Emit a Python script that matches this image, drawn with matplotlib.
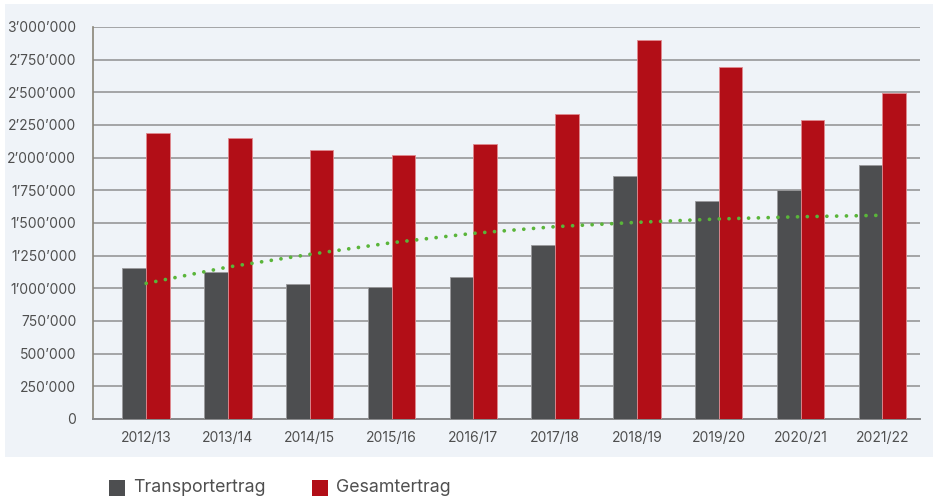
import matplotlib
matplotlib.use("Agg")
import matplotlib.pyplot as plt
import numpy as np
from matplotlib.patches import Rectangle
from matplotlib.ticker import FuncFormatter

# data
years = ['2012/13', '2013/14', '2014/15', '2015/16', '2016/17',
         '2017/18', '2018/19', '2019/20', '2020/21', '2021/22']
transport = [1155000, 1127000, 1030000, 1013000, 1088000,
             1330000, 1857000, 1668000, 1755000, 1946000]
gesamt = [2188000, 2148000, 2058000, 2020000, 2108000,
          2334000, 2900000, 2694000, 2288000, 2495000]
trend = [1038000, 1163000, 1260000, 1349000, 1421000,
         1472000, 1505000, 1531000, 1548000, 1559000]

GRAY = '#4d4e50'
RED = '#b20e17'
GREEN = '#5ab53a'
PANEL = '#eff3f8'
TXT = '#4f4f4f'

plt.rcParams['font.family'] = ['Inter', 'DejaVu Sans']

W, H = 934, 501
fig = plt.figure(figsize=(W / 100, H / 100), dpi=100)
fig.patch.set_facecolor('white')

# light panel behind the plot area
fig.add_artist(Rectangle((5 / W, (H - 457) / H), 928 / W, 453 / H,
                         transform=fig.transFigure, facecolor=PANEL,
                         edgecolor='none', zorder=0))

ax = fig.add_axes([93 / W, (H - 419) / H, 827 / W, 392 / H])
ax.set_facecolor(PANEL)

x = np.arange(len(years))
bw = 0.29
ax.bar(x - bw / 2, transport, bw, color=GRAY, edgecolor='#9a9a9c', linewidth=0.6, zorder=3)
ax.bar(x + bw / 2, gesamt, bw, color=RED, edgecolor='#e08a90', linewidth=0.6, zorder=3)
ax.plot(x, trend, color=GREEN, lw=2.7, linestyle=(0, (0.01, 2.6)),
        dash_capstyle='round', zorder=4)

ax.set_xlim(-0.65, 9.46)
ax.set_ylim(0, 3000000)
ax.set_yticks(np.arange(0, 3000001, 250000))
ax.yaxis.set_major_formatter(FuncFormatter(lambda v, p: f"{int(v):,}".replace(',', '\u2019')))
ax.set_xticks(x)
ax.set_xticklabels(years)
ax.tick_params(axis='both', length=0, labelsize=10, labelcolor=TXT)
ax.tick_params(axis='y', pad=12)
ax.tick_params(axis='x', pad=9)

ax.grid(axis='y', color='#a3a4a6', linewidth=1.4, zorder=1)
for s in ['top', 'right']:
    ax.spines[s].set_visible(False)
ax.spines['left'].set_color('#8a8578')
ax.spines['left'].set_linewidth(1.2)
ax.spines['bottom'].set_color('#88898b')
ax.spines['bottom'].set_linewidth(1.4)

# legend below the panel
for xs, col, lab in [(109, GRAY, 'Transportertrag'), (312, RED, 'Gesamtertrag')]:
    fig.add_artist(Rectangle((xs / W, (H - 496) / H), 16 / W, 16 / H,
                             transform=fig.transFigure, facecolor=col, edgecolor='none'))
    fig.text((xs + 24) / W, (H - 488) / H, lab, fontsize=12.8, color=TXT, va='center', ha='left')

fig.savefig('out.png', dpi=100, facecolor='white')
